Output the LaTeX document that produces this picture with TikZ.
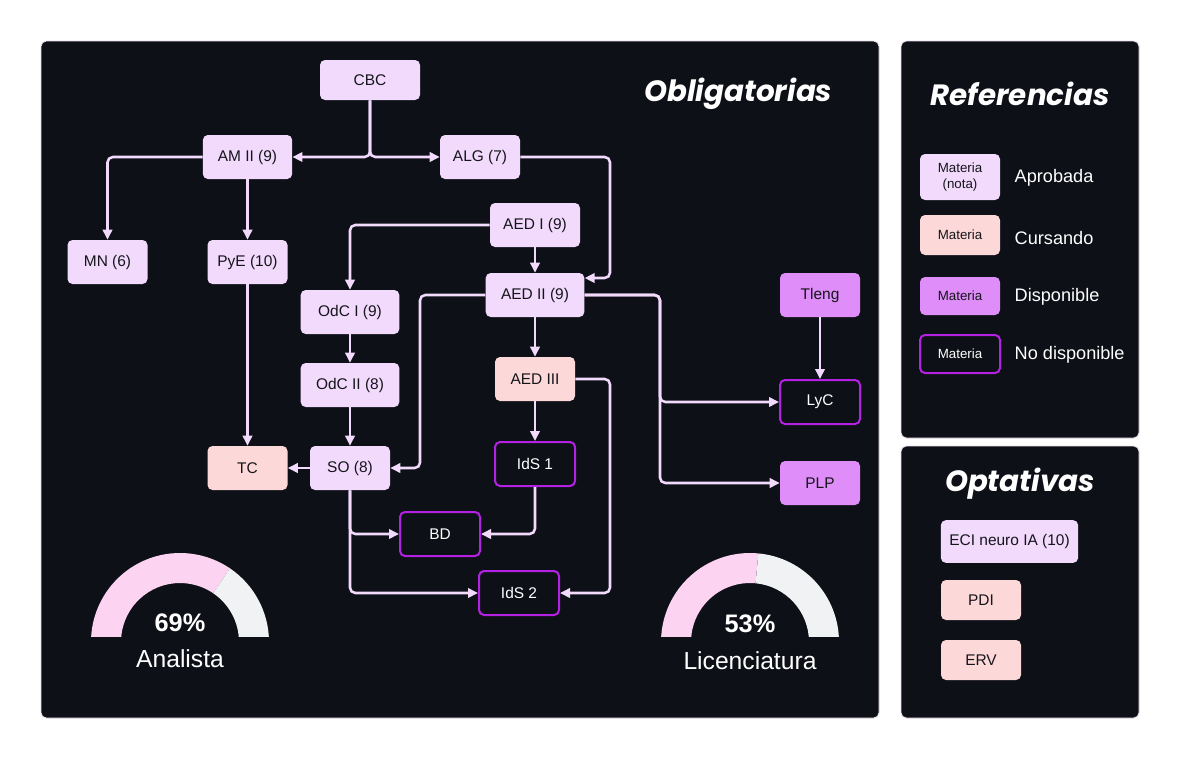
\documentclass[tikz,border=0pt]{standalone}
\usepackage{fontspec}
\setmainfont{Liberation Sans}
\newfontfamily\titlefont{Poppins}
\usetikzlibrary{arrows.meta,calc}
\definecolor{bgpanel}{HTML}{0E1017}
\definecolor{apro}{HTML}{F2DAFD}
\definecolor{curs}{HTML}{FDD8D8}
\definecolor{disp}{HTML}{DF8DF8}
\definecolor{nodisp}{HTML}{B521E2}
\definecolor{edgec}{HTML}{F2DAFD}
\definecolor{gpink}{HTML}{FCD4F2}
\definecolor{ggray}{HTML}{F1F2F4}
\definecolor{panelborder}{HTML}{E9DCEB}
\definecolor{txtdark}{HTML}{15151A}
\tikzset{
  panel/.style={fill=bgpanel, draw=panelborder, line width=0.6pt, rounded corners=4pt},
  subj/.style={rounded corners=3.75pt, minimum height=33pt, minimum width=60pt, inner sep=0pt, align=center, font=\fontsize{11.6}{13.5}\selectfont, text=txtdark},
  aprob/.style={subj, fill=apro},
  cursa/.style={subj, fill=curs},
  dispo/.style={subj, fill=disp},
  nodispo/.style={subj, fill=bgpanel, draw=nodisp, line width=1.5pt, text=white},
  arr/.style={draw=edgec, line width=1.9pt, rounded corners=4pt, -{Triangle[length=7.5pt,width=7pt]}},
  ttl/.style={font=\titlefont\bfseries\itshape\fontsize{22}{26}\selectfont, text=white},
  legtxt/.style={anchor=west, text=white, font=\fontsize{13.6}{16}\selectfont},
  leg/.style={minimum width=60pt, font=\fontsize{10}{12}\selectfont},
  gtxt/.style={text=white, font=\fontsize{18.5}{22}\selectfont},
  gpct/.style={text=white, font=\bfseries\fontsize{19}{22}\selectfont},
}
\begin{document}
\begin{tikzpicture}[x=0.75pt,y=-0.75pt]
\useasboundingbox (0,0) rectangle (1180,760);
\fill[white] (0,0) rectangle (1180,760);
% panels
\draw[panel] (41,41) rectangle (879,718);
\draw[panel] (901,41) rectangle (1139,438);
\draw[panel] (901,446) rectangle (1139,718);

% titles
\node[ttl, anchor=east] (tObl) at (837,94) {Obligatorias};
\node[ttl] (tRef) at (1020,94) {Referencias};
\node[ttl] (tOpt) at (1020,484) {Optativas};

% subjects
\node[aprob, minimum width=75pt, minimum height=30pt] (CBC) at (370,80) {CBC};
\node[aprob, minimum width=67pt] (AMII) at (247.5,157) {AM II (9)};
\node[aprob] (ALG) at (480,157) {ALG (7)};
\node[aprob] (MN) at (107.5,262) {MN (6)};
\node[aprob] (PyE) at (247.5,262) {PyE (10)};
\node[aprob, minimum width=67.5pt] (AEDI) at (535,225) {AED I (9)};
\node[aprob, minimum width=74pt] (AEDII) at (535,295) {AED II (9)};
\node[aprob, minimum width=74pt] (OdCI) at (350,312) {OdC I (9)};
\node[aprob, minimum width=74pt] (OdCII) at (350,385) {OdC II (8)};
\node[cursa] (AEDIII) at (535,379) {AED III};
\node[nodispo] (IdSa) at (535,464) {IdS 1};
\node[aprob] (SO) at (350,468) {SO (8)};
\node[cursa] (TC) at (247.5,468) {TC};
\node[nodispo] (BD) at (440,534) {BD};
\node[nodispo] (IdSb) at (519,593) {IdS 2};
\node[dispo] (Tleng) at (820,295) {Tleng};
\node[nodispo] (LyC) at (820,402) {LyC};
\node[dispo] (PLP) at (820,483) {PLP};

% connectors
\draw[arr] (CBC.south) |- (AMII.east);
\draw[arr] (CBC.south) |- (ALG.west);
\draw[arr] (AMII.west) -| (MN.north);
\draw[arr] (AMII.south) -- (PyE.north);
\coordinate (jALG) at (610,157);
\draw[arr] (ALG.east) -- (jALG) |- ($(AEDII.east)+(0,-17)$);
\draw[arr] (AEDI.west) -| (OdCI.north);
\draw[arr] (AEDI.south) -- (AEDII.north);
\coordinate (jSO) at (420,295);
\draw[arr] (AEDII.west) -- (jSO) |- (SO.east);
\draw[arr] (AEDII.south) -- (AEDIII.north);
\coordinate (jR) at (660,295);
\draw[arr] (AEDII.east) -- (jR) |- (LyC.west);
\draw[arr] (AEDII.east) -- (jR) |- (PLP.west);
\draw[arr] (Tleng.south) -- (LyC.north);
\draw[arr] (OdCI.south) -- (OdCII.north);
\draw[arr] (OdCII.south) -- (SO.north);
\draw[arr] (PyE.south) -- (TC.north);
\draw[arr] (SO.west) -- (TC.east);
\draw[arr] (AEDIII.south) -- (IdSa.north);
\coordinate (j3) at (610,379);
\draw[arr] (AEDIII.east) -- (j3) |- (IdSb.east);
\draw[arr] (IdSa.south) |- (BD.east);
\draw[arr] (SO.south) |- (BD.west);
\draw[arr] (SO.south) |- (IdSb.west);

% legend
\node[aprob, leg, minimum height=34.5pt] (L1) at (960,177) {Materia\\(nota)};
\node[legtxt] (L1t) at (1010,178) {Aprobada};
\node[cursa, leg, minimum height=30pt] (L2) at (960,235) {Materia};
\node[legtxt] (L2t) at (1010,238) {Cursando};
\node[dispo, leg, minimum height=28.5pt] (L3) at (960,296) {Materia};
\node[legtxt] (L3t) at (1010,297) {Disponible};
\node[nodispo, leg, minimum height=28.5pt] (L4) at (960,354) {Materia};
\node[legtxt] (L4t) at (1010,355) {No disponible};

% optativas
\node[aprob, minimum width=103pt, minimum height=32pt] (ECI) at (1009.5,541.5) {ECI neuro IA (10)};
\node[cursa, minimum height=30pt] (PDI) at (981,600) {PDI};
\node[cursa, minimum height=30pt] (ERV) at (981,660) {ERV};

% gauges
\begin{scope}
\clip (60,540) rectangle (300,636);
\def\cx{180}\def\cy{642}\def\ro{89}\def\ri{59}\def\ang{304.2}
\fill[gpink] ({\cx-\ro},\cy) arc[start angle=180, end angle=\ang, radius=\ro] -- ({\cx+\ri*cos(\ang)},{\cy+\ri*sin(\ang)}) arc[start angle=\ang, end angle=180, radius=\ri] -- cycle;
\fill[ggray] ({\cx+\ri*cos(\ang)},{\cy+\ri*sin(\ang)}) -- ({\cx+\ro*cos(\ang)},{\cy+\ro*sin(\ang)}) arc[start angle=\ang, end angle=360, radius=\ro] -- ({\cx+\ri},\cy) arc[start angle=360, end angle=\ang, radius=\ri] -- cycle;
\end{scope}
\begin{scope}
\clip (630,540) rectangle (870,636);
\def\cx{750}\def\cy{642}\def\ro{89}\def\ri{59}\def\ang{275.4}
\fill[ggray] ({\cx+\ri*cos(\ang)},{\cy+\ri*sin(\ang)}) -- ({\cx+\ro*cos(\ang)},{\cy+\ro*sin(\ang)}) arc[start angle=\ang, end angle=360, radius=\ro] -- ({\cx+\ri},\cy) arc[start angle=360, end angle=\ang, radius=\ri] -- cycle;
\fill[gpink] ({\cx-\ro},\cy) arc[start angle=180, end angle=\ang, radius=\ro] -- ({\cx+\ri*cos(\ang)},{\cy+\ri*sin(\ang)}) arc[start angle=\ang, end angle=180, radius=\ri] -- cycle;
\end{scope}
\node[gpct] (p1) at (180,623) {69\%};
\node[gtxt] (g1) at (180,659) {Analista};
\node[gpct] (p2) at (750,624) {53\%};
\node[gtxt] (g2) at (750,661) {Licenciatura};
\end{tikzpicture}
\end{document}
